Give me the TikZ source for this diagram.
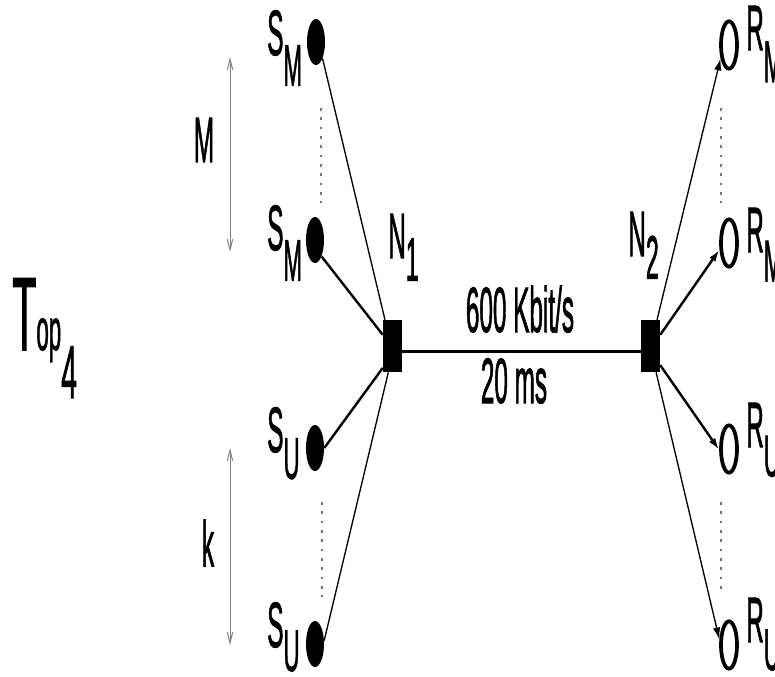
\documentclass[tikz,border=0pt]{standalone}
\usepackage{fontspec}
\setmainfont{Liberation Sans}[FakeBold=1.8]
\usepackage{graphicx}
\usetikzlibrary{shapes.geometric,arrows.meta}
\newcommand{\tx}[2]{\scalebox{0.38}[1]{\fontsize{#1}{#1}\selectfont #2}}
\newcommand{\lb}[3]{\tx{48}{#1}\raisebox{#3}{\tx{44}{#2}}}
\begin{document}
\begin{tikzpicture}[x=0.75pt,y=-0.75pt,
 snd/.style={ellipse,fill=black,inner sep=0pt,minimum width=13.5pt,minimum height=34.5pt},
 rcv/.style={ellipse,draw=black,line width=2.8pt,inner sep=0pt,minimum width=12pt,minimum height=35.5pt},
 router/.style={rectangle,fill=black,inner sep=0pt,minimum width=14.25pt,minimum height=39pt},
 thinlink/.style={line width=1pt},
 thicklink/.style={line width=1.8pt},
 dots/.style={black!55,line width=0.9pt,dash pattern=on 2pt off 5pt},
 dim/.style={gray,line width=0.75pt,{Straight Barb[length=8pt,width=4pt]}-{Straight Barb[length=8pt,width=4pt]}},
 txt/.style={inner sep=0pt,anchor=base west},
 tip/.style={-{Latex[length=9pt,width=5.5pt]}}
]
\useasboundingbox (0,0) rectangle (775,676);
% senders
\node[snd] (s1) at (316,42) {};
\node[snd] (s2) at (315,240) {};
\node[snd] (s3) at (315,448) {};
\node[snd] (s4) at (315,644) {};
% receivers
\node[rcv] (r1) at (729,45) {};
\node[rcv] (r2) at (729,243) {};
\node[rcv] (r3) at (729,449) {};
\node[rcv] (r4) at (729,645) {};
% routers
\node[router] (n1) at (392.5,346) {};
\node[router] (n2) at (650.5,346) {};
% links
\draw[line width=2.25pt] ([yshift=-3.75pt]n1.east) -- ([yshift=-3.75pt]n2.west);
\draw[thinlink] (s1.south east) -- (n1.106);
\draw[thicklink] (s2.south east) -- (n1.131);
\draw[thicklink] (s3.east) -- (n1.246);
\draw[thinlink] (s4.20) -- (n1.261);
\draw[thinlink,tip] (n2.76) -- (r1.238);
\draw[thicklink,tip] (n2.49) -- (r2.215);
\draw[thicklink,tip] (n2.297) -- (r3.185);
\draw[thinlink,tip] (n2.282) -- (r4.150);
% dotted continuation lines
\coordinate (da1) at (321,108); \coordinate (da2) at (321,203);
\coordinate (db1) at (322,502); \coordinate (db2) at (322,597);
\coordinate (dc1) at (721,108); \coordinate (dc2) at (721,203);
\coordinate (dd1) at (721,502); \coordinate (dd2) at (721,595);
\draw[dots] (da1) -- (da2);
\draw[dots] (db1) -- (db2);
\draw[dots] (dc1) -- (dc2);
\draw[dots] (dd1) -- (dd2);
% dimension arrows
\coordinate (ma) at (230,57); \coordinate (mb) at (230,252);
\coordinate (ka) at (230,448); \coordinate (kb) at (230,645);
\draw[dim] (ma) -- (mb);
\draw[dim] (ka) -- (kb);
\node[inner sep=0pt] (lm) at (204,140) {\tx{48}{M}};
\node[inner sep=0pt] (lk) at (208,543) {\tx{48}{k}};
% labels
\node[txt] (ls1) at (267,55) {\lb{S}{M}{-23pt}};
\node[txt] (ls2) at (267,250) {\lb{S}{M}{-23pt}};
\node[txt] (ls3) at (267,452) {\lb{S}{U}{-20pt}};
\node[txt] (ls4) at (267,647) {\lb{S}{U}{-18pt}};
\node[txt] (lr1) at (746,50) {\lb{R}{M}{-24pt}};
\node[txt] (lr2) at (746,252) {\lb{R}{M}{-22pt}};
\node[txt] (lr3) at (746,447) {\lb{R}{U}{-22pt}};
\node[txt] (lr4) at (746,642) {\lb{R}{U}{-21pt}};
\node[txt] (ln1) at (388,258) {\tx{48}{N}\raisebox{-17pt}{\tx{46}{1}}};
\node[txt] (ln2) at (628,256) {\tx{48}{N}\raisebox{-17pt}{\tx{46}{2}}};
\node[inner sep=0pt,anchor=base] (bw) at (520,332) {\tx{48}{600 Kbit/s}};
\node[inner sep=0pt,anchor=base] (dl) at (514,403) {\tx{48}{20 ms}};
\node[txt] (top) at (12,350) {\tx{78}{T}\tx{44}{op}\raisebox{-36pt}{\tx{56}{4}}};
\end{tikzpicture}
\end{document}
